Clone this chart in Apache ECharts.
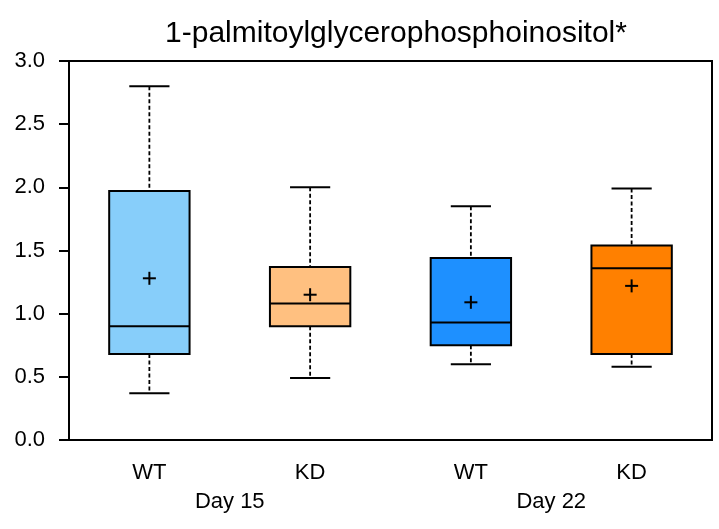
<!DOCTYPE html>
<html>
<head>
<meta charset="utf-8">
<script src="https://cdn.jsdelivr.net/npm/echarts@6/dist/echarts.min.js"></script>
<style>
  html, body { margin: 0; padding: 0; background: #fff; }
  #chart { width: 719px; height: 529px; }
</style>
</head>
<body>
<div id="chart"></div>
<script>
var groups = ['WT', 'KD', 'WT', 'KD'];
var days = ['Day 15', 'Day 22'];
var whiskerLow = [0.37, 0.49, 0.60, 0.58];
var q1 = [0.68, 0.90, 0.75, 0.68];
var median = [0.90, 1.08, 0.93, 1.36];
var q3 = [1.97, 1.37, 1.44, 1.54];
var whiskerHigh = [2.80, 2.00, 1.85, 1.99];
var means = [1.28, 1.15, 1.09, 1.22];
var yTicks = [0, 0.5, 1.0, 1.5, 2.0, 2.5, 3.0];
var boxColors = ['#87CEFA', '#FFC080', '#1E90FF', '#FF8000'];

var FONT = 'Liberation Sans, Arial, Helvetica, sans-serif';

var rows = [];
groups.forEach(function (g, i) {
    rows.push([i, whiskerLow[i], q1[i], median[i], q3[i], whiskerHigh[i], means[i]]);
});

function renderBox(params, api) {
    var i = api.value(0);
    var band = api.size([1, 0])[0];
    var half = band * 0.25;
    var cap = band * 0.125;
    var pLow = api.coord([i, api.value(1)]);
    var pQ1 = api.coord([i, api.value(2)]);
    var pMed = api.coord([i, api.value(3)]);
    var pQ3 = api.coord([i, api.value(4)]);
    var pHigh = api.coord([i, api.value(5)]);
    var pMean = api.coord([i, api.value(6)]);
    var x = pQ1[0];
    var solid = { stroke: '#000', lineWidth: 2 };
    var dashed = { stroke: '#000', lineWidth: 1.8, lineDash: [4, 2.5] };
    return {
        type: 'group',
        children: [
            { type: 'line', shape: { x1: x, y1: pHigh[1], x2: x, y2: pQ3[1] }, style: dashed },
            { type: 'line', shape: { x1: x, y1: pQ1[1], x2: x, y2: pLow[1] }, style: dashed },
            { type: 'line', shape: { x1: x - cap, y1: pHigh[1], x2: x + cap, y2: pHigh[1] }, style: solid },
            { type: 'line', shape: { x1: x - cap, y1: pLow[1], x2: x + cap, y2: pLow[1] }, style: solid },
            { type: 'rect', shape: { x: x - half, y: pQ3[1], width: half * 2, height: pQ1[1] - pQ3[1] },
              style: { fill: boxColors[i], stroke: '#000', lineWidth: 2 } },
            { type: 'line', shape: { x1: x - half, y1: pMed[1], x2: x + half, y2: pMed[1] }, style: solid },
            { type: 'line', shape: { x1: x - 6.5, y1: pMean[1], x2: x + 6.5, y2: pMean[1] }, style: solid },
            { type: 'line', shape: { x1: x, y1: pMean[1] - 6.5, x2: x, y2: pMean[1] + 6.5 }, style: solid }
        ]
    };
}

var chart = echarts.init(document.getElementById('chart'));
chart.setOption({
    animation: false,
    title: {
        text: '1-palmitoylglycerophosphoinositol*',
        left: 391,
        top: 14,
        textAlign: 'center',
        textStyle: { fontFamily: FONT, fontSize: 30, fontWeight: 'normal', color: '#000' }
    },
    grid: {
        left: 69, right: 7, top: 61, bottom: 89,
        show: true, borderColor: '#000', borderWidth: 2, backgroundColor: 'transparent'
    },
    xAxis: [{
        type: 'category',
        data: groups,
        position: 'bottom',
        axisLine: { lineStyle: { color: '#000', width: 2 } },
        axisTick: { alignWithLabel: true, length: 9, lineStyle: { color: '#000', width: 2 } },
        axisLabel: { margin: 22, color: '#000', fontFamily: FONT, fontSize: 22 }
    }, {
        type: 'category',
        data: days,
        position: 'bottom',
        axisLine: { show: false },
        axisTick: { show: false },
        axisLabel: { margin: 51, color: '#000', fontFamily: FONT, fontSize: 22 }
    }],
    yAxis: {
        type: 'value',
        min: yTicks[0],
        max: yTicks[yTicks.length - 1],
        interval: 0.5,
        splitLine: { show: false },
        axisLine: { show: true, lineStyle: { color: '#000', width: 2 } },
        axisTick: { show: true, length: 10, lineStyle: { color: '#000', width: 2 } },
        axisLabel: {
            margin: 24, color: '#000', fontFamily: FONT, fontSize: 22,
            formatter: function (v) { return v.toFixed(1); }
        }
    },
    series: [{
        type: 'custom',
        xAxisIndex: 0,
        yAxisIndex: 0,
        renderItem: renderBox,
        encode: { x: 0, y: [1, 2, 3, 4, 5, 6] },
        data: rows,
        z: 3
    }]
});
</script>
</body>
</html>
